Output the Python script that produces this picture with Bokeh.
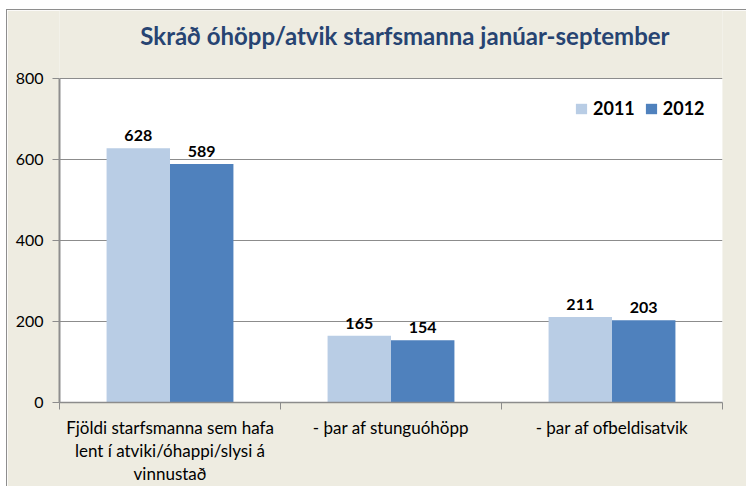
from bokeh.plotting import figure
from bokeh.models import (ColumnDataSource, Range1d, FixedTicker, LabelSet, Label,
                          Legend, LegendItem, BoxAnnotation)
from bokeh.transform import dodge
from bokeh.core.properties import value
from bokeh.embed import file_html
from bokeh.resources import INLINE

# ---- data ----
categories = [
    "Fjöldi starfsmanna sem hafa\nlent í atviki/óhappi/slysi á\nvinnustað",
    "- þar af stunguóhöpp",
    "- þar af ofbeldisatvik",
]
years = ["2011", "2012"]
values_2011 = [628, 165, 211]
values_2012 = [589, 154, 203]
y_ticks = [0, 200, 400, 600, 800]
title_text = "Skráð óhöpp/atvik starfsmanna janúar-september"

# ---- style / layout ----
FONT = "Lato"
LIGHT = "#B9CDE5"
DARK = "#4F81BD"
BG = "#EEECE1"
GRID = "#8C8C8C"
TITLE_COLOR = "#274472"
BAR_W = 0.287
PLOT_H = 324        # px of the white plot area (0..800)
FRAME_H = 392       # frame extends upward to hold the title
TITLE_DROP = 367    # px from plot-area bottom to title baseline

y_top = y_ticks[-1] * FRAME_H / PLOT_H
title_y = y_ticks[-1] * TITLE_DROP / PLOT_H

pos = [i + 0.5 for i in range(len(categories))]
src = ColumnDataSource(dict(
    x=pos,
    y2011=values_2011,
    y2012=values_2012,
    t2011=[str(v) for v in values_2011],
    t2012=[str(v) for v in values_2012],
))

p = figure(frame_width=663, frame_height=FRAME_H,
           x_range=Range1d(0, len(categories)), y_range=Range1d(y_ticks[0], y_top),
           output_backend="svg", toolbar_location=None, tools="",
           min_border_left=52, min_border_right=24, min_border_top=0, min_border_bottom=0)
p.title = None
p.border_fill_color = BG
p.background_fill_color = BG
p.outline_line_color = None
p.styles = {"margin-left": "6px", "margin-top": "9px",
            "border-left": "1px solid #8E8E8E", "border-top": "1px solid #8E8E8E"}

# white plot area
p.add_layout(BoxAnnotation(bottom=y_ticks[0], top=y_ticks[-1], fill_color="white",
                           fill_alpha=1, line_color=None, level="image"))

p.add_layout(Label(x=1.563, y=title_y, text=title_text, text_align="center",
                   text_baseline="alphabetic", text_font=FONT, text_font_style="bold",
                   text_font_size="24px", text_color=TITLE_COLOR))

r1 = p.vbar(x=dodge("x", -BAR_W / 2), top="y2011", width=BAR_W, source=src,
            fill_color=LIGHT, line_color=None)
r2 = p.vbar(x=dodge("x", BAR_W / 2), top="y2012", width=BAR_W, source=src,
            fill_color=DARK, line_color=None)

for col, off in (("2011", -BAR_W / 2), ("2012", BAR_W / 2)):
    p.add_layout(LabelSet(x=dodge("x", off), y="y" + col, text="t" + col, source=src,
                          text_align="center", text_baseline="alphabetic", y_offset=7,
                          text_font=value(FONT), text_font_style="bold",
                          text_font_size="16px", text_color="black"))

# axes
p.yaxis.ticker = FixedTicker(ticks=y_ticks)
p.yaxis.bounds = (y_ticks[0], y_ticks[-1])
p.yaxis.major_label_text_font = FONT
p.yaxis.major_label_text_font_size = "16px"
p.yaxis.major_label_text_color = "black"
p.yaxis.major_tick_out = 7
p.yaxis.major_tick_in = 0
p.yaxis.minor_tick_line_color = None
p.yaxis.major_tick_line_color = GRID
p.yaxis.axis_line_color = "#8E8E8E"
p.yaxis.axis_line_width = 2
p.yaxis.major_label_standoff = 9

p.xaxis.ticker = FixedTicker(ticks=pos, minor_ticks=list(range(len(categories) + 1)))
p.xaxis.major_label_overrides = {x: c for x, c in zip(pos, categories)}
p.xaxis.major_label_text_font = FONT
p.xaxis.major_label_text_font_size = "17px"
p.xaxis.major_label_text_color = "black"
p.xaxis.major_label_text_line_height = 1.1
p.xaxis.major_tick_out = 0
p.xaxis.major_tick_in = 0
p.xaxis.minor_tick_out = 7
p.xaxis.minor_tick_in = 0
p.xaxis.minor_tick_line_color = GRID
p.xaxis.axis_line_color = GRID
p.xaxis.axis_line_width = 1.5
p.xaxis.major_label_standoff = 7

p.xgrid.visible = False
p.ygrid.grid_line_color = GRID

legend = Legend(items=[LegendItem(label=years[0], renderers=[r1]),
                       LegendItem(label=years[1], renderers=[r2])],
                location=(515, 283), orientation="horizontal",
                glyph_width=14, glyph_height=13, label_height=13,
                label_standoff=5, spacing=9, padding=3, margin=0,
                label_text_font=FONT, label_text_font_style="bold",
                label_text_font_size="18px", label_text_color="black",
                border_line_color=None, background_fill_alpha=0)
p.add_layout(legend)

open("out.html", "w").write(file_html(p, INLINE))
